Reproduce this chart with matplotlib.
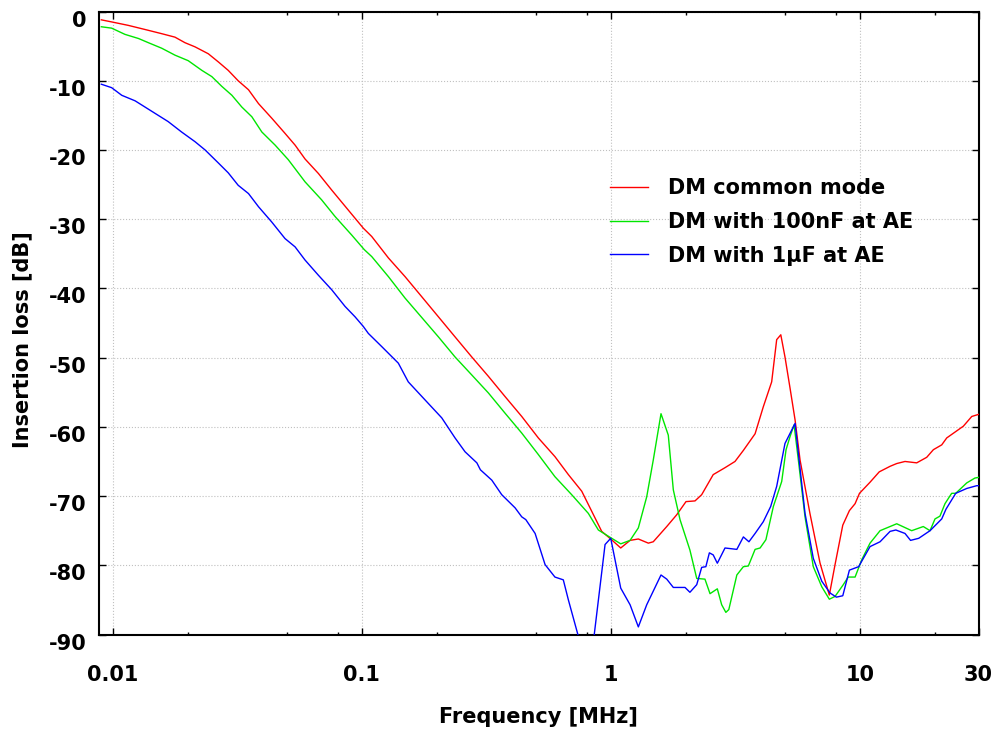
import numpy as np
import matplotlib
matplotlib.use("Agg")
import matplotlib.pyplot as plt
from matplotlib.ticker import FixedLocator, NullFormatter
import matplotlib.transforms as mtrans

# values (frequency in MHz, insertion loss in dB)
f_red = [0.009, 0.0099, 0.01155, 0.0135, 0.01573, 0.01778, 0.0195, 0.0214, 0.0242, 0.0266,
         0.0291, 0.0319, 0.0351, 0.0385, 0.0435, 0.0492, 0.054, 0.0592, 0.067, 0.0758,
         0.0884, 0.1015, 0.1097, 0.128, 0.1493, 0.1742, 0.2032, 0.237, 0.2766, 0.3226,
         0.3759, 0.4392, 0.512, 0.597, 0.676, 0.765, 0.839, 0.92, 1.0, 1.097,
         1.196, 1.291, 1.416, 1.482, 1.679, 1.841, 2.006, 2.18, 2.319, 2.58,
         2.877, 3.156, 3.41, 3.80, 4.10, 4.43, 4.64, 4.82, 5.01, 5.25,
         5.50, 5.76, 6.31, 6.93, 7.55, 7.96, 8.55, 9.09, 9.58, 9.98,
         11.0, 11.98, 13.24, 14.08, 15.2, 16.94, 18.58, 19.76, 21.35, 22.36,
         26.08, 28.18, 30.0]
db_red = [-1.2, -1.5, -2.0, -2.6, -3.2, -3.7, -4.5, -5.1, -6.1, -7.3,
          -8.5, -10.0, -11.3, -13.3, -15.4, -17.6, -19.3, -21.3, -23.4, -25.8,
          -28.7, -31.3, -32.5, -35.6, -38.3, -41.2, -44.1, -47.0, -49.9, -52.7,
          -55.6, -58.5, -61.6, -64.3, -66.9, -69.3, -72.2, -75.1, -76.2, -77.5,
          -76.4, -76.2, -76.8, -76.6, -74.4, -72.7, -70.8, -70.7, -69.8, -66.9,
          -65.9, -65.0, -63.4, -61.0, -57.1, -53.5, -47.4, -46.7, -49.9, -54.4,
          -59.0, -64.8, -72.5, -79.7, -84.3, -79.9, -74.2, -72.1, -71.1, -69.6,
          -68.0, -66.5, -65.7, -65.3, -65.0, -65.2, -64.4, -63.3, -62.6, -61.6,
          -59.9, -58.5, -58.2]

f_green = [0.009, 0.0099, 0.0112, 0.0127, 0.0139, 0.01573, 0.01778, 0.0201, 0.0228, 0.025,
           0.0274, 0.0301, 0.033, 0.0362, 0.0397, 0.0449, 0.0507, 0.0592, 0.069, 0.0781,
           0.0912, 0.1024, 0.1097, 0.128, 0.1493, 0.1742, 0.2032, 0.237, 0.2766, 0.3226,
           0.3759, 0.4392, 0.512, 0.597, 0.697, 0.813, 0.892, 0.978, 1.097, 1.196,
           1.291, 1.395, 1.482, 1.592, 1.703, 1.784, 1.898, 2.08, 2.215, 2.39,
           2.505, 2.68, 2.79, 2.90, 2.98, 3.21, 3.41, 3.57, 3.80, 3.98,
           4.2, 4.5, 4.86, 5.06, 5.25, 5.45, 5.67, 6.03, 6.51, 7.04,
           7.55, 7.96, 8.59, 8.99, 9.58, 10.19, 11.0, 12.07, 14.08, 16.17,
           18.0, 19.16, 20.06, 21.0, 22.0, 23.4, 24.3, 26.9, 29.0, 30.0]
db_green = [-2.2, -2.4, -3.3, -3.9, -4.5, -5.3, -6.3, -7.1, -8.5, -9.4,
            -10.8, -12.1, -13.8, -15.2, -17.4, -19.3, -21.4, -24.6, -27.2, -29.6,
            -32.3, -34.4, -35.4, -38.3, -41.4, -44.2, -47.0, -49.9, -52.5, -55.1,
            -58.0, -60.9, -64.0, -67.2, -69.8, -72.5, -74.9, -75.8, -76.9, -76.4,
            -74.6, -70.1, -64.8, -58.1, -61.2, -69.1, -73.4, -77.8, -81.9, -82.0,
            -84.1, -83.4, -85.7, -86.8, -86.4, -81.4, -80.2, -80.1, -77.7, -77.5,
            -76.3, -71.5, -67.9, -63.3, -61.4, -59.7, -64.8, -73.0, -80.2, -83.1,
            -84.9, -84.5, -82.8, -81.7, -81.7, -79.2, -76.8, -75.0, -74.0, -75.0,
            -74.4, -75.0, -73.3, -72.9, -71.1, -69.6, -69.6, -68.1, -67.4, -67.3]

f_blue = [0.009, 0.0099, 0.01087, 0.0123, 0.0139, 0.0167, 0.0189, 0.0214, 0.0235, 0.0266,
          0.0291, 0.0319, 0.0351, 0.0385, 0.0435, 0.0492, 0.054, 0.0592, 0.067, 0.0758,
          0.0857, 0.094, 0.1015, 0.1063, 0.1203, 0.1403, 0.1538, 0.1795, 0.2096, 0.237,
          0.26, 0.29, 0.2996, 0.333, 0.365, 0.413, 0.4392, 0.456, 0.497, 0.545,
          0.597, 0.645, 0.676, 0.82, 0.949, 1.0, 1.097, 1.196, 1.291, 1.395,
          1.592, 1.679, 1.784, 1.988, 2.08, 2.215, 2.319, 2.41, 2.49, 2.58,
          2.68, 2.877, 3.21, 3.41, 3.59, 3.80, 4.10, 4.39, 4.64, 5.01,
          5.5, 6.03, 6.51, 7.04, 7.6, 8.06, 8.55, 9.09, 9.9, 11.0,
          12.07, 13.24, 13.97, 15.2, 16.0, 17.26, 19.16, 21.35, 22.2, 24.3,
          26.9, 29.5, 30.0]
db_blue = [-10.5, -11.0, -12.1, -12.9, -14.1, -15.9, -17.4, -18.8, -20.0, -21.9,
           -23.3, -25.1, -26.3, -28.2, -30.4, -32.8, -34.0, -35.9, -38.1, -40.2,
           -42.6, -44.1, -45.5, -46.5, -48.4, -50.8, -53.5, -56.1, -58.7, -61.6,
           -63.6, -65.2, -66.2, -67.7, -69.8, -71.7, -73.0, -73.4, -75.4, -79.9,
           -81.7, -82.1, -85.0, -96.0, -77.0, -76.1, -83.3, -85.7, -88.9, -85.7,
           -81.4, -82.0, -83.2, -83.2, -83.9, -82.8, -80.3, -80.2, -78.2, -78.5,
           -79.7, -77.5, -77.7, -75.9, -76.6, -75.4, -73.7, -71.5, -68.6, -62.4,
           -59.5, -72.5, -79.0, -82.3, -84.0, -84.6, -84.4, -80.7, -80.2, -77.3,
           -76.6, -75.1, -74.9, -75.4, -76.4, -76.1, -75.0, -73.3, -71.9, -69.6,
           -68.9, -68.5, -68.5]

labels = ["DM common mode", "DM with 100nF at AE", "DM with 1\u00b5F at AE"]
colors = ["#ff0000", "#00e600", "#0000ff"]

x_major = [0.01, 0.1, 1, 10, 30]
x_major_lbl = ["0.01", "0.1", "1", "10", "30"]
x_minor = [0.02, 0.05, 0.08, 0.2, 0.5, 0.8, 2, 5, 8, 20]
y_major = list(range(-90, 1, 10))

plt.rcParams['font.family'] = 'DejaVu Sans'
plt.rcParams['font.weight'] = 'bold'

fig = plt.figure(figsize=(9.99, 7.30), dpi=100)
ax = fig.add_axes([0.099, 0.1308, 0.8805, 0.8534])

for f, d, c, l in zip([f_red, f_green, f_blue], [db_red, db_green, db_blue], colors, labels):
    ax.plot(f, d, color=c, lw=1.0, label=l, zorder=3)

ax.set_xscale('log')
ax.set_xlim(0.0088, 30)
ax.set_ylim(-90, 0)

ax.xaxis.set_major_locator(FixedLocator(x_major))
ax.set_xticklabels(x_major_lbl)
ax.xaxis.set_minor_locator(FixedLocator(x_minor))
ax.xaxis.set_minor_formatter(NullFormatter())
ax.set_yticks(y_major)
ax.set_yticklabels([str(v) for v in y_major])

ax.tick_params(which='both', direction='in', top=True, right=True, width=1.0)
ax.tick_params(which='major', length=5)
ax.tick_params(which='minor', length=2.5)
ax.tick_params(axis='x', which='major', pad=22, labelsize=15)
ax.tick_params(axis='y', which='major', pad=9, labelsize=15)

# y tick labels sit a bit below their ticks in the reference
off = mtrans.ScaledTranslation(0, -7 / 100, fig.dpi_scale_trans)
for t in ax.get_yticklabels():
    t.set_transform(t.get_transform() + off)

for s in ax.spines.values():
    s.set_linewidth(1.5)

ax.grid(True, which='major', linestyle=':', color='#c0c0c0', linewidth=0.8, zorder=0)

ax.set_xlabel("Frequency [MHz]", fontsize=15, fontweight='bold')
ax.set_ylabel("Insertion loss [dB]", fontsize=15, fontweight='bold')
ax.xaxis.set_label_coords(0.5, -0.116)
ax.yaxis.set_label_coords(-0.076, 0.473)

ax.legend(loc='upper left', bbox_to_anchor=(0.6106, 0.756), bbox_transform=fig.transFigure,
          frameon=False, borderpad=0, borderaxespad=0, handlelength=1.83,
          handletextpad=0.96, labelspacing=0.66,
          prop={'size': 15, 'weight': 'bold'})

fig.savefig("out.png", dpi=100)
